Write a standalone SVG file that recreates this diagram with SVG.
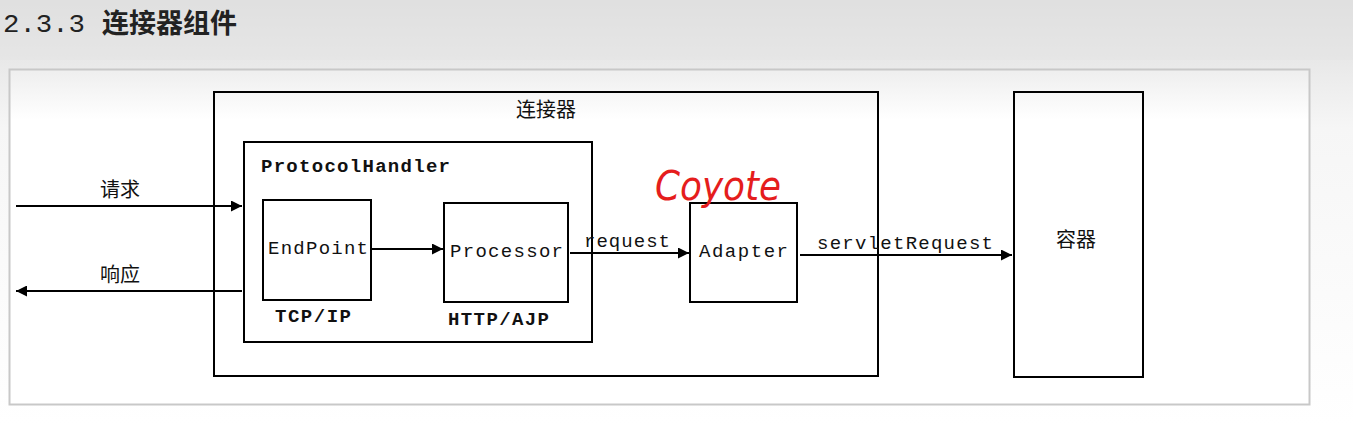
<svg xmlns="http://www.w3.org/2000/svg" width="1353" height="425" viewBox="0 0 1353 425">
<defs>
<linearGradient id="bg" x1="0" y1="0" x2="0" y2="1">
<stop offset="0" stop-color="#dcdcdc"/>
<stop offset="0.3" stop-color="#f6f6f6"/>
<stop offset="1" stop-color="#ffffff"/>
</linearGradient>
<linearGradient id="frame" x1="0" y1="0" x2="0" y2="1">
<stop offset="0" stop-color="#eeeeee"/>
<stop offset="0.15" stop-color="#ffffff"/>
<stop offset="1" stop-color="#ffffff"/>
</linearGradient>
<marker id="ah" viewBox="0 0 10 10" refX="10" refY="5" markerWidth="11" markerHeight="11" markerUnits="userSpaceOnUse" orient="auto">
<path d="M0,0 L10,5 L0,10 z" fill="#000"/>
</marker>
</defs>
<style>
.box{fill:none;stroke:#000;stroke-width:2}
.mono{font-family:"Liberation Mono","Courier New",monospace;font-size:19px;fill:#111}
.cjk{font-family:"Liberation Sans","Noto Sans CJK SC",sans-serif;font-size:20px;fill:#111}
.line{stroke:#000;stroke-width:2;fill:none;marker-end:url(#ah)}
</style>
<rect x="0" y="0" width="1353" height="425" fill="url(#bg)"/>
<rect x="0" y="0" width="1353" height="60" fill="#e4e4e4" opacity="0.5"/>
<text x="3" y="32" font-family="Liberation Mono,monospace" font-size="25" fill="#222" textLength="82" lengthAdjust="spacingAndGlyphs">2.3.3</text>
<text x="102" y="33" font-family="Liberation Sans,Noto Sans CJK SC,sans-serif" font-size="27" font-weight="bold" fill="#222">连接器组件</text>
<rect x="9.5" y="69.5" width="1300" height="335" fill="url(#frame)" stroke="#c8c8c8" stroke-width="2"/>

<g id="connector">
<rect class="box" x="214" y="92" width="664" height="284" fill="#fff"/>
<text class="cjk" x="546" y="117" text-anchor="middle">连接器</text>
</g>
<g id="protocolhandler">
<rect class="box" x="244" y="142" width="348" height="200"/>
<text class="mono" x="261" y="172" font-weight="bold" textLength="189">ProtocolHandler</text>
</g>
<g id="endpoint">
<rect class="box" x="263" y="200" width="108" height="100"/>
<text class="mono" x="268" y="254" textLength="100">EndPoint</text>
<text class="mono" x="275" y="322" font-weight="bold" textLength="76">TCP/IP</text>
</g>
<g id="processor">
<rect class="box" x="444" y="203" width="124" height="99"/>
<text class="mono" x="450" y="257" textLength="113">Processor</text>
<text class="mono" x="448" y="325" font-weight="bold" textLength="101">HTTP/AJP</text>
</g>
<g id="adapter">
<rect class="box" x="690" y="203" width="107" height="99"/>
<text class="mono" x="699" y="257" textLength="89">Adapter</text>
</g>
<g id="container">
<rect class="box" x="1014" y="92" width="129" height="285" fill="#fff"/>
<text class="cjk" x="1076" y="247" text-anchor="middle">容器</text>
</g>
<g id="coyote">
<text x="655" y="200" font-family="DejaVu Sans,sans-serif" font-size="40" font-style="italic" fill="#e51d1d" textLength="126" lengthAdjust="spacingAndGlyphs">Coyote</text>
</g>

<g id="connectors">
<line class="line" x1="16" y1="206" x2="242" y2="206"/>
<text class="cjk" x="120" y="197" text-anchor="middle">请求</text>
<line class="line" x1="242" y1="291" x2="16" y2="291"/>
<text class="cjk" x="120" y="282" text-anchor="middle">响应</text>
<line class="line" x1="371" y1="249" x2="443" y2="249"/>
<line class="line" x1="570" y1="253" x2="689" y2="253"/>
<text class="mono" x="584" y="247" textLength="86">request</text>
<line class="line" x1="800" y1="255" x2="1012" y2="255"/>
<text class="mono" x="817" y="249" textLength="176">servletRequest</text>
</g>
</svg>
